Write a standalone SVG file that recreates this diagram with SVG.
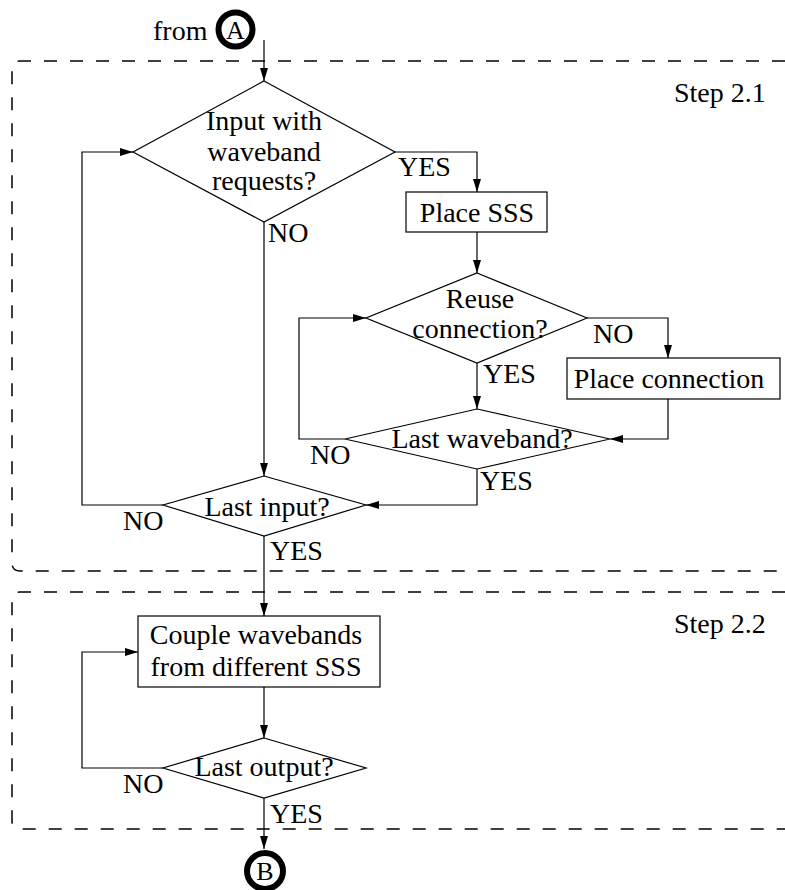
<svg xmlns="http://www.w3.org/2000/svg" width="785" height="890" viewBox="0 0 785 890">
<style>
text{font-family:"Liberation Serif","Times New Roman",serif;font-size:28px;fill:#000}
.c{text-anchor:middle}
.shape{fill:#fff;stroke:#000;stroke-width:1.2}
.edge{fill:none;stroke:#000;stroke-width:1.2}
.frame{fill:none;stroke:#000;stroke-width:1.5;stroke-dasharray:13 13}
.term{fill:#fff;stroke:#000;stroke-width:6}
</style>
<defs>
<marker id="ah" markerUnits="userSpaceOnUse" markerWidth="14" markerHeight="9" refX="13" refY="4" orient="auto">
<path d="M0,0 L13,4 L0,8 z" fill="#000"/>
</marker>
</defs>
<rect width="785" height="890" fill="#fff"/>
<g id="frames">
<path class="frame" d="M785,61 H20 Q12,61 12,69 V563 Q12,571 20,571 H785"/>
<path class="frame" d="M785,592 H20 Q12,592 12,600 V821 Q12,829 20,829 H785"/>
<text x="674" y="102">Step 2.1</text>
<text x="674" y="633">Step 2.2</text>
</g>
<g id="connectors">
<path class="edge" d="M264,40 V81" marker-end="url(#ah)"/>
<path class="edge" d="M395,152 H477 V192" marker-end="url(#ah)"/>
<path class="edge" d="M477,232 V273" marker-end="url(#ah)"/>
<path class="edge" d="M587,318 H668 V358" marker-end="url(#ah)"/>
<path class="edge" d="M477,363 V409" marker-end="url(#ah)"/>
<path class="edge" d="M668,399 V439 H610" marker-end="url(#ah)"/>
<path class="edge" d="M345,439 H299 V318 H366" marker-end="url(#ah)"/>
<path class="edge" d="M477,469 V505 H366" marker-end="url(#ah)"/>
<path class="edge" d="M264,222 V476" marker-end="url(#ah)"/>
<path class="edge" d="M163,505 H82 V152 H133" marker-end="url(#ah)"/>
<path class="edge" d="M264,536 V616" marker-end="url(#ah)"/>
<path class="edge" d="M264,687 V738" marker-end="url(#ah)"/>
<path class="edge" d="M163,768 H82 V652 H138" marker-end="url(#ah)"/>
<path class="edge" d="M264,798 V849" marker-end="url(#ah)"/>
<text x="398" y="176">YES</text>
<text x="268" y="242">NO</text>
<text x="593" y="343">NO</text>
<text x="483" y="383">YES</text>
<text x="310" y="464">NO</text>
<text x="480" y="490">YES</text>
<text x="123" y="530">NO</text>
<text x="270" y="560">YES</text>
<text x="123" y="793">NO</text>
<text x="270" y="823">YES</text>
</g>
<g id="startA">
<text x="153" y="40">from</text>
<circle class="term" cx="235.5" cy="29.5" r="17"/>
<text class="c" x="235.5" y="38.5" style="font-size:26px">A</text>
</g>
<g id="d_input">
<polygon class="shape" points="264,81 395,152 264,222 133,152"/>
<text class="c" x="264" y="130">Input with</text>
<text class="c" x="264" y="161">waveband</text>
<text class="c" x="264" y="190">requests?</text>
</g>
<g id="b_sss">
<rect class="shape" x="406" y="192" width="141" height="40"/>
<text class="c" x="477" y="222">Place SSS</text>
</g>
<g id="d_reuse">
<polygon class="shape" points="477,273 587,318 477,363 366,318"/>
<text class="c" x="480" y="308">Reuse</text>
<text class="c" x="480" y="338">connection?</text>
</g>
<g id="b_conn">
<rect class="shape" x="567" y="358" width="213" height="41"/>
<text class="c" x="669" y="388">Place connection</text>
</g>
<g id="d_lastwb">
<polygon class="shape" points="477,409 610,439 477,469 345,439"/>
<text class="c" x="482" y="448">Last waveband?</text>
</g>
<g id="d_lastin">
<polygon class="shape" points="264,476 366,505 264,536 163,505"/>
<text class="c" x="267" y="516">Last input?</text>
</g>
<g id="b_couple">
<rect class="shape" x="138" y="616" width="242" height="71"/>
<text class="c" x="256" y="644">Couple wavebands</text>
<text class="c" x="256" y="676">from different SSS</text>
</g>
<g id="d_lastout">
<polygon class="shape" points="264,738 366,768 264,798 163,768"/>
<text class="c" x="264" y="776">Last output?</text>
</g>
<g id="endB">
<circle class="term" cx="265" cy="871" r="18"/>
<text class="c" x="265" y="880" style="font-size:26px">B</text>
</g>
</svg>
